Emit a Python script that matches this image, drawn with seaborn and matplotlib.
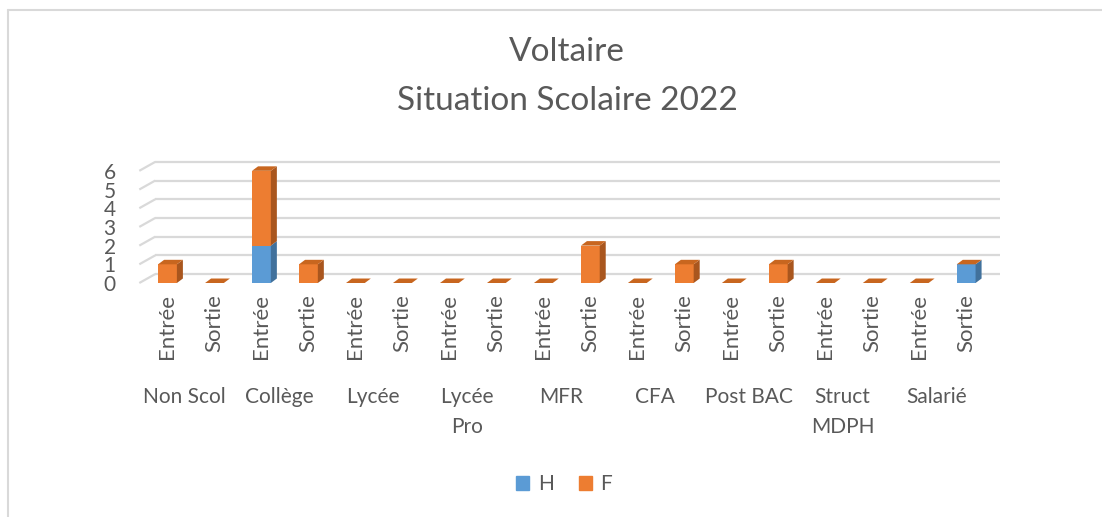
import matplotlib
matplotlib.use("Agg")
import matplotlib.pyplot as plt
import matplotlib.transforms as mtransforms
from matplotlib.patches import Polygon, Patch
from matplotlib.lines import Line2D
import pandas as pd
import seaborn as sns

groups = ["Non Scol", "Collège", "Lycée", "Lycée\nPro", "MFR", "CFA", "Post BAC", "Struct\nMDPH", "Salarié"]
moments = ["Entrée", "Sortie"]
h_values = [0, 0, 2, 0, 0, 0, 0, 0, 0, 0, 0, 0, 0, 0, 0, 0, 0, 1]
f_values = [1, 0, 4, 1, 0, 0, 0, 0, 0, 2, 0, 1, 0, 1, 0, 0, 0, 0]
y_ticks = [0, 1, 2, 3, 4, 5, 6]

blue, orange = "#5B9BD5", "#ED7D31"
blue_side, orange_side, orange_top = "#41719C", "#A9561E", "#C8661F"
grid_col = "#D9D9D9"
txt = "#595959"

sns.set_style("white")
plt.rcParams["font.family"] = ["Lato", "DejaVu Sans"]

keys = [f"{g}|{m}" for g in groups for m in moments]
df = pd.DataFrame({"key": keys, "H": h_values, "F": f_values})
df["total"] = df["H"] + df["F"]

W, H = 1102, 517
fig = plt.figure(figsize=(W / 100, H / 100), dpi=100)
ax = fig.add_axes([139.3 / W, 234 / H, 860.7 / W, 123.4 / H])

# stacked: total first (F colour), then H over it
sns.barplot(data=df, x="key", y="total", order=keys, color=orange, width=0.4,
            linewidth=0, saturation=1, ax=ax, zorder=3)
n = len(keys)
sns.barplot(data=df, x="key", y="H", order=keys, color=blue, width=0.4,
            linewidth=0, saturation=1, ax=ax, zorder=3)

tot_bars = ax.patches[:n]
h_bars = ax.patches[n:2 * n]
ddx, ddy = 0.128, 0.24  # bar depth in data units
for tb, hb in zip(tot_bars, h_bars):
    x1 = tb.get_x() + tb.get_width()
    x0 = tb.get_x()
    t = tb.get_height()
    h = hb.get_height()
    if h > 0:
        ax.add_patch(Polygon([(x1, 0), (x1 + ddx, ddy), (x1 + ddx, h + ddy), (x1, h)],
                             closed=True, color=blue_side, lw=0, zorder=3))
    if t > h:
        ax.add_patch(Polygon([(x1, h), (x1 + ddx, h + ddy), (x1 + ddx, t + ddy), (x1, t)],
                             closed=True, color=orange_side, lw=0, zorder=3))
    ax.add_patch(Polygon([(x0, t), (x1, t), (x1 + ddx, t + ddy), (x0 + ddx, t + ddy)],
                         closed=True, color=orange_top, lw=0, zorder=3))

xmin, xmax = -0.6, 17.72
bdx, bdy = 16 / 47, 0.48  # back wall offset
for k in y_ticks:
    ax.plot([xmin, xmin + bdx], [k, k + bdy], color=grid_col, lw=1.6, zorder=1,
            clip_on=False, solid_capstyle="butt")
    ax.plot([xmin + bdx, xmax], [k + bdy, k + bdy], color=grid_col, lw=1.6, zorder=1,
            clip_on=False, solid_capstyle="butt")

ax.set_xlim(xmin, xmax)
ax.set_ylim(0, 6.6)
ax.set_yticks(y_ticks)
ax.set_yticklabels([str(v) for v in y_ticks], fontsize=15, color=txt)
ax.set_xticks(range(n))
ax.set_xticklabels([k.split("|")[1] for k in keys], rotation=90, fontsize=16,
                   color=txt, va="top")
ax.tick_params(axis="x", length=0, pad=8)
ax.tick_params(axis="y", length=0, pad=17)
ax.set_xlabel("")
ax.set_ylabel("")
for s in ax.spines.values():
    s.set_visible(False)

trans = mtransforms.blended_transform_factory(ax.transData, fig.transFigure)
for i, g in enumerate(groups):
    ax.text(2 * i + 0.37, 1 - 387 / H, g, transform=trans, ha="center", va="top",
            fontsize=15, color=txt, linespacing=1.65, multialignment="center")

fig.text(567 / W, 1 - 52 / H, "Voltaire", ha="center", va="center", fontsize=24, color=txt)
fig.text(567 / W, 1 - 101 / H, "Situation Scolaire 2022", ha="center", va="center",
         fontsize=24, color=txt)

handles = [Patch(color=blue, label="H"), Patch(color=orange, label="F")]
fig.legend(handles=handles, loc="center", bbox_to_anchor=(564 / W, 1 - 484 / H), ncol=2,
           frameon=False, fontsize=15, labelcolor=txt, handlelength=0.65,
           handleheight=0.65, handletextpad=0.4, columnspacing=1.2)

fig.add_artist(Line2D([7.5 / W, 7.5 / W], [0, 1 - 9.5 / H], transform=fig.transFigure,
                      color=grid_col, lw=1.5))
fig.add_artist(Line2D([7.5 / W, 1], [1 - 9.5 / H, 1 - 9.5 / H], transform=fig.transFigure,
                      color=grid_col, lw=1.5))

fig.savefig("out.png", dpi=100, facecolor="white")
